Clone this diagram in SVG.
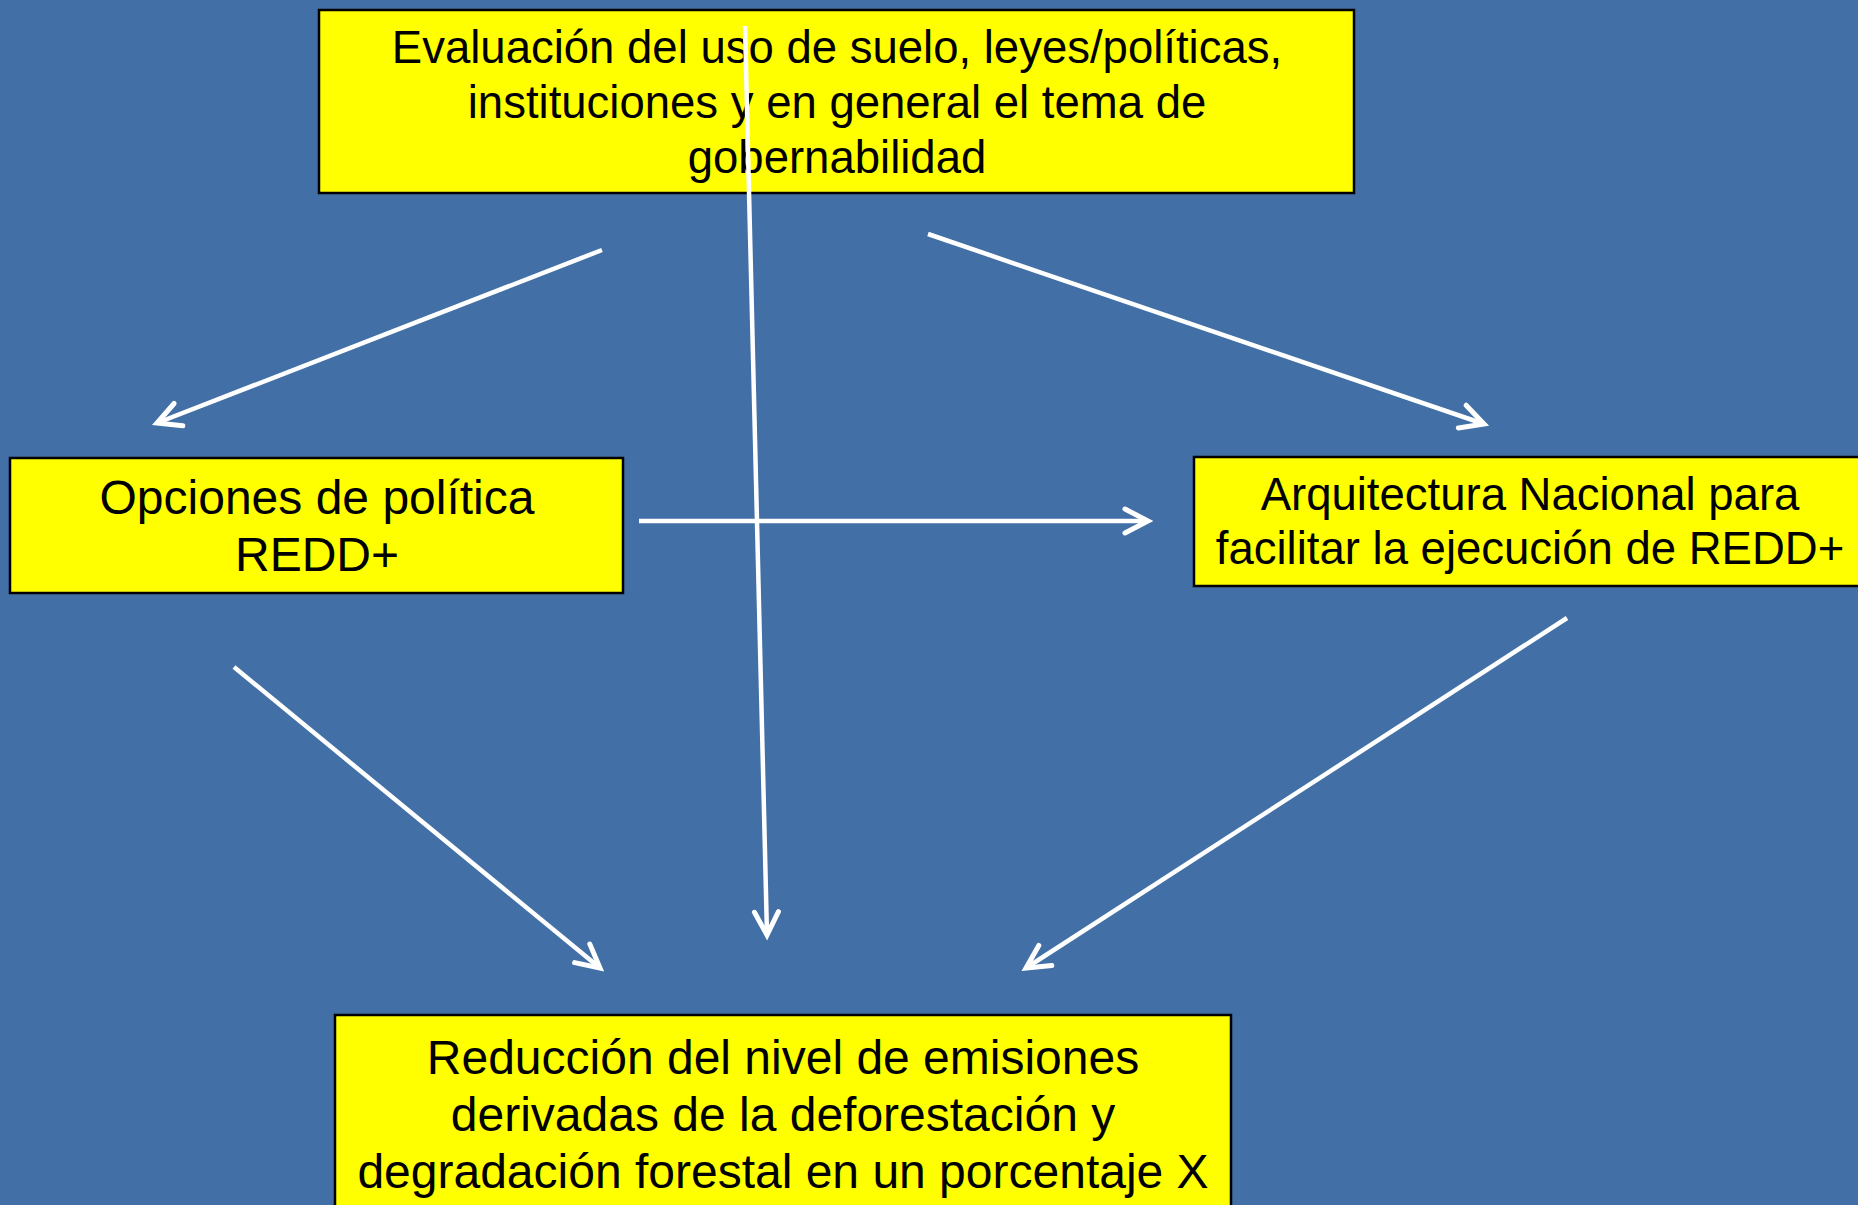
<svg xmlns="http://www.w3.org/2000/svg" width="1858" height="1205" viewBox="0 0 1858 1205">
<style>
.box{fill:#FFFF00;stroke:#000;stroke-width:2.5}
.t{font-family:"Liberation Sans",Arial,sans-serif;font-size:45.5px;fill:#000;text-anchor:middle}
.tl{font-size:48px}
.c{fill:none;stroke:#fff;stroke-width:4.5}
</style>
<defs>
<marker id="ah" markerUnits="userSpaceOnUse" markerWidth="40" markerHeight="40" viewBox="-30 -20 40 40" refX="0" refY="0" orient="auto">
<path d="M-23,-12 L0,0 L-23,12" fill="none" stroke="#fff" stroke-width="5" stroke-linecap="round" stroke-linejoin="miter"/>
</marker>
</defs>
<rect width="1858" height="1205" fill="#416FA6"/>
<g id="n-evaluacion">
<rect class="box" x="319" y="10" width="1035" height="183"/>
<text class="t" x="837" y="63">Evaluación del uso de suelo, leyes/políticas,</text>
<text class="t" x="837" y="118">instituciones y en general el tema de</text>
<text class="t" x="837" y="173">gobernabilidad</text>
</g>
<g id="n-opciones">
<rect class="box" x="10" y="458" width="613" height="135"/>
<text class="t tl" x="317" y="514">Opciones de política</text>
<text class="t tl" x="317" y="571">REDD+</text>
</g>
<g id="n-arquitectura">
<rect class="box" x="1194" y="457" width="670" height="129"/>
<text class="t" x="1530" y="510">Arquitectura Nacional para</text>
<text class="t" x="1530" y="564">facilitar la ejecución de REDD+</text>
</g>
<g id="n-reduccion">
<rect class="box" x="335" y="1015" width="896" height="200"/>
<text class="t tl" x="783" y="1074">Reducción del nivel de emisiones</text>
<text class="t tl" x="783" y="1131">derivadas de la deforestación y</text>
<text class="t tl" x="783" y="1188">degradación forestal en un porcentaje X</text>
</g>
<g id="connectors">
<line class="c" x1="602" y1="250" x2="157" y2="423" marker-end="url(#ah)"/>
<line class="c" x1="928" y1="234" x2="1484" y2="424" marker-end="url(#ah)"/>
<line class="c" x1="745" y1="26" x2="767" y2="935" marker-end="url(#ah)"/>
<line class="c" x1="639" y1="521" x2="1148" y2="521" marker-end="url(#ah)"/>
<line class="c" x1="234" y1="667" x2="600" y2="968" marker-end="url(#ah)"/>
<line class="c" x1="1567" y1="618" x2="1026" y2="968" marker-end="url(#ah)"/>
</g>
</svg>
